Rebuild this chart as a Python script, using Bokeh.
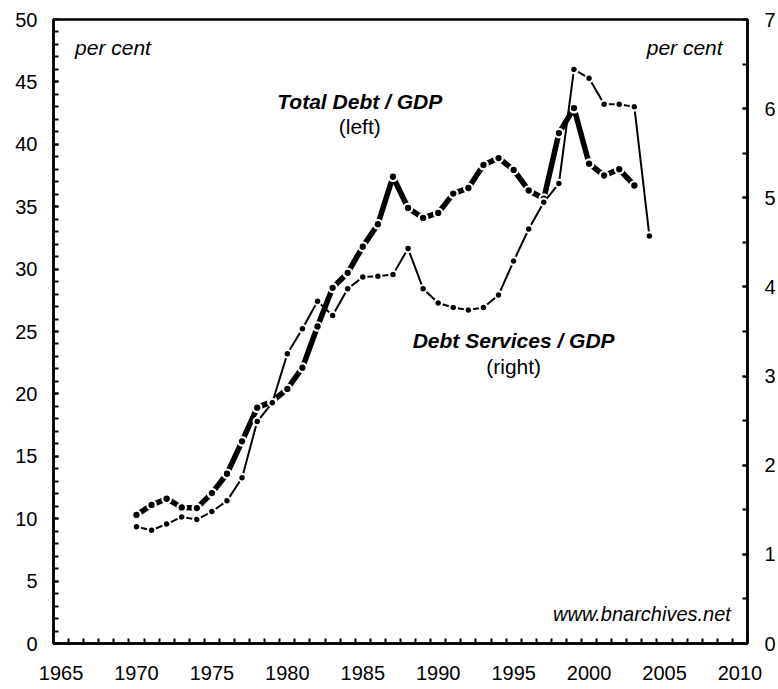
from bokeh.plotting import figure
from bokeh.models import Range1d, LinearAxis, FixedTicker, Label
from bokeh.embed import file_html
from bokeh.resources import INLINE

# ---- data ----
years_debt = list(range(1970, 2004))
total_debt = [10.3, 11.1, 11.6, 10.9, 10.85, 12.05, 13.6, 16.2, 18.9, 19.4,
              20.4, 22.1, 25.4, 28.5, 29.7, 31.8, 33.6, 37.4, 34.9, 34.1,
              34.5, 36.05, 36.5, 38.35, 38.9, 37.95, 36.3, 35.65, 40.9, 42.9,
              38.45, 37.5, 38.0, 36.7]
years_serv = list(range(1970, 2005))
debt_services = [1.31, 1.27, 1.34, 1.42, 1.39, 1.48, 1.60, 1.86, 2.49, 2.70,
                 3.25, 3.53, 3.84, 3.68, 3.98, 4.11, 4.12, 4.14, 4.43, 3.98,
                 3.82, 3.77, 3.74, 3.77, 3.91, 4.29, 4.65, 4.95, 5.16, 6.44,
                 6.34, 6.05, 6.05, 6.02, 4.57]
x_tick_years = list(range(1965, 2011, 5))
left_ticks = list(range(0, 51, 5))
right_ticks = list(range(0, 8))

FONT = "Liberation Sans"

p = figure(width=778, height=689, output_backend="svg", toolbar_location=None,
           x_range=Range1d(1964.5, 2010.5), y_range=Range1d(0, 50),
           min_border_left=53, min_border_right=30, min_border_top=19,
           min_border_bottom=46)
p.extra_y_ranges = {"right": Range1d(0, 7)}
p.add_layout(LinearAxis(y_range_name="right"), "right")

p.xgrid.visible = False
p.ygrid.visible = False
p.outline_line_color = "black"
p.outline_line_width = 2.5
p.background_fill_color = "white"
p.border_fill_color = "white"

xa = p.xaxis[0]
xa.ticker = FixedTicker(ticks=x_tick_years,
                        minor_ticks=[y + 0.5 for y in range(1964, 2011)])
ya = p.yaxis[0]
ya.ticker = FixedTicker(ticks=left_ticks, minor_ticks=list(range(0, 51)))
yr = p.yaxis[1]
yr.ticker = FixedTicker(ticks=right_ticks, minor_ticks=[i * 0.5 for i in range(15)])

for ax in (xa, ya, yr):
    ax.axis_line_color = "black"
    ax.axis_line_width = 2.5
    ax.major_tick_line_color = "black"
    ax.minor_tick_line_color = "black"
    ax.major_tick_line_width = 2
    ax.minor_tick_line_width = 2
    ax.minor_tick_in = 5
    ax.minor_tick_out = 0
    ax.major_label_text_font = FONT
    ax.major_label_text_font_size = "20px"
    ax.major_label_text_color = "black"

xa.major_tick_in = 0
xa.major_tick_out = 0
xa.major_label_standoff = 22
ya.major_tick_in = 5
ya.major_tick_out = 0
ya.major_label_standoff = 16
yr.major_tick_in = 5
yr.major_tick_out = 0
yr.major_label_standoff = 17

# ---- series ----
p.line(years_debt, total_debt, line_width=5.5, line_color="black")
p.scatter(years_debt, total_debt, size=8.5, fill_color="black",
          line_color="white", line_width=2.2)
p.line(years_serv, debt_services, y_range_name="right", line_width=2,
       line_color="black")
p.scatter(years_serv, debt_services, y_range_name="right", size=7.5,
          fill_color="black", line_color="white", line_width=2)

# ---- annotations ----
def lab(x, y, text, align="left", style="italic", size="21px"):
    p.add_layout(Label(x=x, y=y, text=text, text_font=FONT,
                       text_font_style=style, text_font_size=size,
                       text_color="black", text_align=align,
                       text_baseline="middle"))

lab(1965.93, 47.76, "per cent")
lab(2008.85, 47.76, "per cent", align="right")
lab(1984.8, 43.46, "Total Debt / GDP", align="center", style="bold italic")
lab(1984.8, 41.46, "(left)", align="center", style="normal")
lab(1995.0, 24.24, "Debt Services / GDP", align="center", style="bold italic")
lab(1995.0, 22.16, "(right)", align="center", style="normal")
lab(2009.4, 2.4, "www.bnarchives.net", align="right", size="20px")

open("out.html", "w").write(file_html(p, INLINE))
